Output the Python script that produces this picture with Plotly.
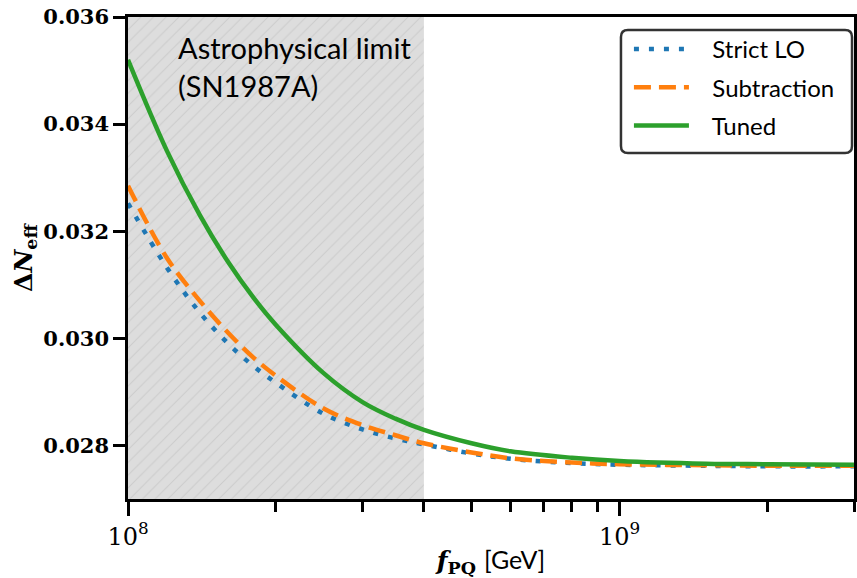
import numpy as np
import plotly.graph_objects as go

# ---- data ----
f_pq = [1e8, 1.2e8, 1.4e8, 1.6e8, 1.8e8, 2e8, 2.5e8, 3e8, 3.5e8, 4e8,
        5e8, 6e8, 8e8, 1e9, 1.5e9, 2e9, 3e9]
strict_lo = [0.03252, 0.03132, 0.03048, 0.02990, 0.02948, 0.02917, 0.02859,
             0.02830, 0.02813, 0.02802, 0.02785, 0.02775, 0.02767, 0.02764,
             0.02762, 0.02761, 0.02761]
subtraction = [0.03285, 0.03150, 0.03070, 0.03010, 0.02964, 0.02930, 0.02869,
               0.02838, 0.02819, 0.02804, 0.02787, 0.02776, 0.02768, 0.02765,
               0.02763, 0.02762, 0.02762]
tuned = [0.03520, 0.03350, 0.03230, 0.03142, 0.03076, 0.03025, 0.02935,
         0.02881, 0.02850, 0.02829, 0.02804, 0.02789, 0.02777, 0.02771,
         0.02766, 0.02765, 0.02764]

X_MIN, X_MAX = 1e8, 3e9
Y_MIN, Y_MAX = 0.027, 0.036
SN_LIMIT = 4e8
y_ticks = [0.028, 0.030, 0.032, 0.034, 0.036]
x_major = [1e8, 1e9]
x_major_text = ["10<sup>8</sup>", "10<sup>9</sup>"]
x_minor = [2e8, 3e8, 4e8, 5e8, 6e8, 7e8, 8e8, 9e8, 2e9, 3e9]

SERIF = "DejaVu Serif"
SANS = "Lato"
PAD = "\u00a0\u00a0\u00a0"

fig = go.Figure()

# shaded astrophysical-limit region
fig.add_trace(go.Scatter(
    x=[X_MIN, SN_LIMIT, SN_LIMIT, X_MIN, X_MIN],
    y=[Y_MIN, Y_MIN, Y_MAX, Y_MAX, Y_MIN],
    mode="lines", line=dict(width=0), fill="toself",
    fillcolor="#dddddd",
    fillpattern=dict(shape="/", bgcolor="#dddddd", fgcolor="#bababa",
                     size=9, solidity=0.12),
    showlegend=False, hoverinfo="skip"))

fig.add_trace(go.Scatter(x=f_pq, y=strict_lo, mode="lines", name=PAD + "Strict LO",
                         legendgroup="a",
                         line=dict(color="#1f77b4", width=4.5, dash="5px,10px",
                                   shape="spline")))
fig.add_trace(go.Scatter(x=f_pq, y=subtraction, mode="lines", name=PAD + "Subtraction",
                         legendgroup="b",
                         line=dict(color="#ff7f0e", width=4.5, dash="17px,8px",
                                   shape="spline")))
fig.add_trace(go.Scatter(x=f_pq, y=tuned, mode="lines", name=PAD + "Tuned",
                         legendgroup="c",
                         line=dict(color="#2ca02c", width=4.5, shape="spline")))

fig.add_annotation(text="Astrophysical limit<br>(SN1987A)", xref="paper", yref="paper",
                   x=0.066, y=0.978, xanchor="left", yanchor="top", align="left",
                   showarrow=False, font=dict(family=SANS, size=29, color="black"))

# rounded legend frame (paper coordinates)
PW, PH = 729.0, 482.0
lx0, lx1 = (623 - 128) / PW, (855 - 128) / PW
ly1, ly0 = (499 - 30) / PH, (499 - 153) / PH
rx, ry = 7 / PW, 7 / PH
frame = (f"M{lx0+rx},{ly1} L{lx1-rx},{ly1} Q{lx1},{ly1} {lx1},{ly1-ry} "
         f"L{lx1},{ly0+ry} Q{lx1},{ly0} {lx1-rx},{ly0} "
         f"L{lx0+rx},{ly0} Q{lx0},{ly0} {lx0},{ly0+ry} "
         f"L{lx0},{ly1-ry} Q{lx0},{ly1} {lx0+rx},{ly1} Z")
fig.add_shape(type="path", path=frame, xref="paper", yref="paper",
              fillcolor="white", line=dict(color="#333333", width=2.5), layer="above")

fig.update_layout(
    width=857, height=578,
    margin=dict(l=128, r=0, t=17, b=79),
    plot_bgcolor="white", paper_bgcolor="white",
    legend=dict(x=(631 - 128) / PW, y=(499 - 27) / PH, xanchor="left", yanchor="top",
                bgcolor="rgba(0,0,0,0)", borderwidth=0,
                font=dict(family=SANS, size=24, color="black"),
                itemwidth=55, tracegroupgap=4),
)

fig.update_xaxes(
    type="log", range=[np.log10(X_MIN), np.log10(X_MAX)],
    showgrid=False, zeroline=False,
    showline=True, linecolor="black", linewidth=2.5, mirror=True,
    ticks="outside", ticklen=14, tickwidth=2.5, tickcolor="black",
    tickvals=x_major, ticktext=x_major_text,
    tickfont=dict(family=SERIF, size=24, color="black"),
    minor=dict(ticks="outside", ticklen=10, tickwidth=2.5, tickcolor="black",
               tickvals=x_minor, showgrid=False),
    title=dict(text="<b><i>f</i></b><sub><b>PQ</b></sub> <span style=\"font-family:Lato\">[GeV]</span>",
               font=dict(family=SERIF, size=25, color="black"), standoff=6),
)
fig.update_yaxes(
    range=[Y_MIN, Y_MAX], showgrid=False, zeroline=False,
    showline=True, linecolor="black", linewidth=2.5, mirror=True,
    ticks="outside", ticklen=12, tickwidth=2.5, tickcolor="black",
    tickvals=y_ticks, tickformat=".3f",
    tickfont=dict(family=SERIF, size=21, color="black", weight="bold"),
    title=dict(text="<b>Δ<i>N</i></b><sub><b>eff</b></sub>",
               font=dict(family=SERIF, size=25, color="black"), standoff=4),
)

fig.write_html("out.html")
